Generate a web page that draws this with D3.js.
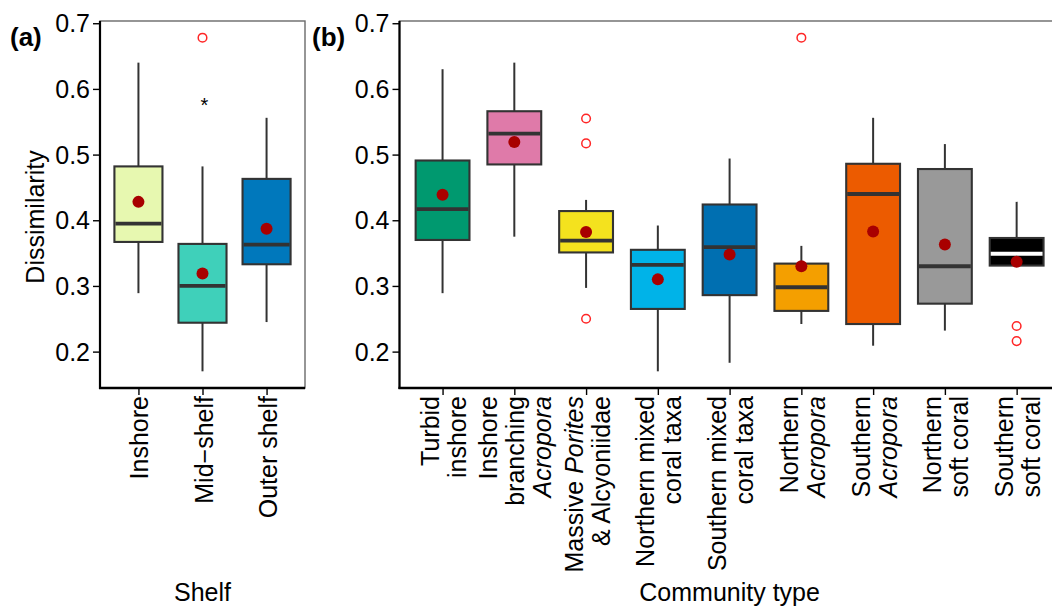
<!DOCTYPE html>
<html>
<head>
<meta charset="utf-8">
<script src="https://cdn.jsdelivr.net/npm/d3@7"></script>
<style>
  body { margin: 0; background: #fff; }
  svg { display: block; font-family: "Liberation Sans", Arial, sans-serif; }
</style>
</head>
<body>
<svg id="chart" width="1052" height="608"></svg>
<script>
// panel (a) - shelf
let shelfNames = ["Inshore", "Mid\u2212shelf", "Outer shelf"];
let shelfLow = [0.289, 0.170, 0.245];
let shelfQ1 = [0.367, 0.244, 0.333];
let shelfMed = [0.395, 0.300, 0.363];
let shelfQ3 = [0.482, 0.364, 0.463];
let shelfHigh = [0.640, 0.482, 0.556];
let shelfMean = [0.428, 0.319, 0.387];
let shelfOutliers = [[], [0.678], []];
let shelfColors = ["#e7f8b0", "#3fd0ba", "#0078bc"];
let shelfStar = [null, 0.584, null];

// panel (b) - community type (italic parts between underscores)
let commNames = [
  ["Turbid", "inshore"],
  ["Inshore", "branching", "_Acropora_"],
  ["Massive _Porites_", "& Alcyoniidae"],
  ["Northern mixed", "coral taxa"],
  ["Southern mixed", "coral taxa"],
  ["Northern", "_Acropora_"],
  ["Southern", "_Acropora_"],
  ["Northern", "soft coral"],
  ["Southern", "soft coral"]
];
let commLow = [0.289, 0.375, 0.297, 0.170, 0.183, 0.242, 0.209, 0.232, 0.331];
let commQ1 = [0.370, 0.485, 0.351, 0.265, 0.286, 0.262, 0.242, 0.273, 0.331];
let commMed = [0.417, 0.532, 0.369, 0.332, 0.359, 0.298, 0.440, 0.330, 0.349];
let commQ3 = [0.491, 0.566, 0.414, 0.355, 0.424, 0.334, 0.486, 0.478, 0.373];
let commHigh = [0.630, 0.640, 0.431, 0.392, 0.494, 0.361, 0.556, 0.516, 0.428];
let commMean = [0.439, 0.519, 0.382, 0.310, 0.348, 0.330, 0.383, 0.363, 0.337];
let commOutliers = [[], [], [0.555, 0.517, 0.250], [], [], [0.678], [], [], [0.239, 0.216]];
let commColors = ["#00996f", "#df7aa9", "#f4e21e", "#00b3e8", "#006fb1", "#f49f00", "#ec5b00", "#999999", "#000000"];
let commStar = [null, null, null, null, null, null, null, null, null];

let yTicks = [0.2, 0.3, 0.4, 0.5, 0.6, 0.7];

let svg = d3.select("#chart");
let plotTop = 21, plotBottom = 388;
let y = d3.scaleLinear().domain([0.1446, 0.7034]).range([plotBottom, plotTop]);

function panel(opt) {
  let rows = opt.names.map((n, i) => ({
    key: i, name: n, low: opt.low[i], q1: opt.q1[i], med: opt.med[i], q3: opt.q3[i],
    high: opt.high[i], mean: opt.mean[i], out: opt.out[i], color: opt.colors[i], star: opt.star[i]
  }));
  let x = d3.scalePoint().domain(rows.map(d => d.key)).range([opt.left, opt.right]).padding(0.6);
  let bw = x.step() * 0.75;
  let g = svg.append("g");

  // frame
  g.append("rect").attr("x", opt.left).attr("y", plotTop).attr("width", opt.right - opt.left).attr("height", plotBottom - plotTop)
    .attr("fill", "none").attr("stroke", "#6a6a6a").attr("stroke-width", 1.4);

  let box = g.selectAll(".box").data(rows).enter().append("g");
  box.append("line").attr("x1", d => x(d.key)).attr("x2", d => x(d.key)).attr("y1", d => y(d.high)).attr("y2", d => y(d.q3))
    .attr("stroke", "#333").attr("stroke-width", 2);
  box.append("line").attr("x1", d => x(d.key)).attr("x2", d => x(d.key)).attr("y1", d => y(d.q1)).attr("y2", d => y(d.low))
    .attr("stroke", "#333").attr("stroke-width", 2);
  box.append("rect").attr("x", d => x(d.key) - bw / 2).attr("width", bw)
    .attr("y", d => y(d.q3)).attr("height", d => y(d.q1) - y(d.q3))
    .attr("fill", d => d.color).attr("stroke", "#333").attr("stroke-width", 2.1);
  box.append("line").attr("x1", d => x(d.key) - bw / 2 + 1).attr("x2", d => x(d.key) + bw / 2 - 1)
    .attr("y1", d => y(d.med)).attr("y2", d => y(d.med))
    .attr("stroke", d => d.color == "#000000" ? "#fff" : "#333").attr("stroke-width", 3.8);
  box.selectAll(".out").data(d => d.out.map(v => ({ key: d.key, v: v }))).enter().append("circle")
    .attr("cx", d => x(d.key)).attr("cy", d => y(d.v)).attr("r", 4.3)
    .attr("fill", "none").attr("stroke", "#ff2626").attr("stroke-width", 1.5);
  box.append("circle").attr("cx", d => x(d.key)).attr("cy", d => y(d.mean)).attr("r", 6).attr("fill", "#a80000");
  box.filter(d => d.star != null).append("text").attr("x", d => x(d.key) + 2).attr("y", d => y(d.star))
    .attr("dy", "0.62em").attr("text-anchor", "middle").attr("font-size", 20).text("*");

  // axes
  let ya = g.append("g").attr("transform", `translate(${opt.left},0)`)
    .call(d3.axisLeft(y).tickValues(yTicks).tickSize(7).tickPadding(3).tickFormat(d3.format(".1f")));
  ya.select(".domain").remove();
  ya.selectAll("line").attr("stroke", "#000").attr("stroke-width", 1.4);
  ya.selectAll("text").attr("font-size", 25).attr("fill", "#000").attr("font-family", null).attr("dy", "0.34em");

  let xa = g.append("g").attr("transform", `translate(0,${plotBottom})`)
    .call(d3.axisBottom(x).tickSize(7).tickFormat(""));
  xa.select(".domain").remove();
  xa.selectAll("line").attr("stroke", "#000").attr("stroke-width", 1.4);

  g.append("line").attr("x1", opt.left).attr("x2", opt.left).attr("y1", plotTop).attr("y2", plotBottom + 1)
    .attr("stroke", "#000").attr("stroke-width", 2.2);
  g.append("line").attr("x1", opt.left - 1).attr("x2", opt.right).attr("y1", plotBottom).attr("y2", plotBottom)
    .attr("stroke", "#000").attr("stroke-width", 2.4);

  // rotated tick labels, lines centred on the tick
  rows.forEach(d => {
    let lines = Array.isArray(d.name) ? d.name : [d.name];
    let t = g.append("text").attr("transform", `translate(${x(d.key)},396) rotate(-90)`)
      .attr("text-anchor", "end").attr("font-size", 25);
    lines.forEach((ln, k) => {
      let line = t.append("tspan").attr("x", 0).attr("y", (k - (lines.length - 1) / 2) * 27).attr("dy", "0.4em");
      ln.split("_").forEach((part, j) => {
        if (part == "") return;
        line.append("tspan").attr("font-style", j % 2 ? "italic" : null).text(part);
      });
    });
  });

  g.append("text").attr("x", (opt.left + opt.right) / 2).attr("y", 601).attr("text-anchor", "middle")
    .attr("font-size", 25).text(opt.title);
  g.append("text").attr("x", opt.tagX).attr("y", 46).attr("font-size", 26).attr("font-weight", "bold").text(opt.tag);
}

panel({
  names: shelfNames, low: shelfLow, q1: shelfQ1, med: shelfMed, q3: shelfQ3, high: shelfHigh,
  mean: shelfMean, out: shelfOutliers, colors: shelfColors, star: shelfStar,
  left: 100, right: 305, title: "Shelf", tag: "(a)", tagX: 10
});
panel({
  names: commNames, low: commLow, q1: commQ1, med: commMed, q3: commQ3, high: commHigh,
  mean: commMean, out: commOutliers, colors: commColors, star: commStar,
  left: 399.5, right: 1059.7, title: "Community type", tag: "(b)", tagX: 312
});

svg.append("text").attr("transform", "translate(44,217) rotate(-90)").attr("text-anchor", "middle")
  .attr("font-size", 25).text("Dissimilarity");
</script>
</body>
</html>
